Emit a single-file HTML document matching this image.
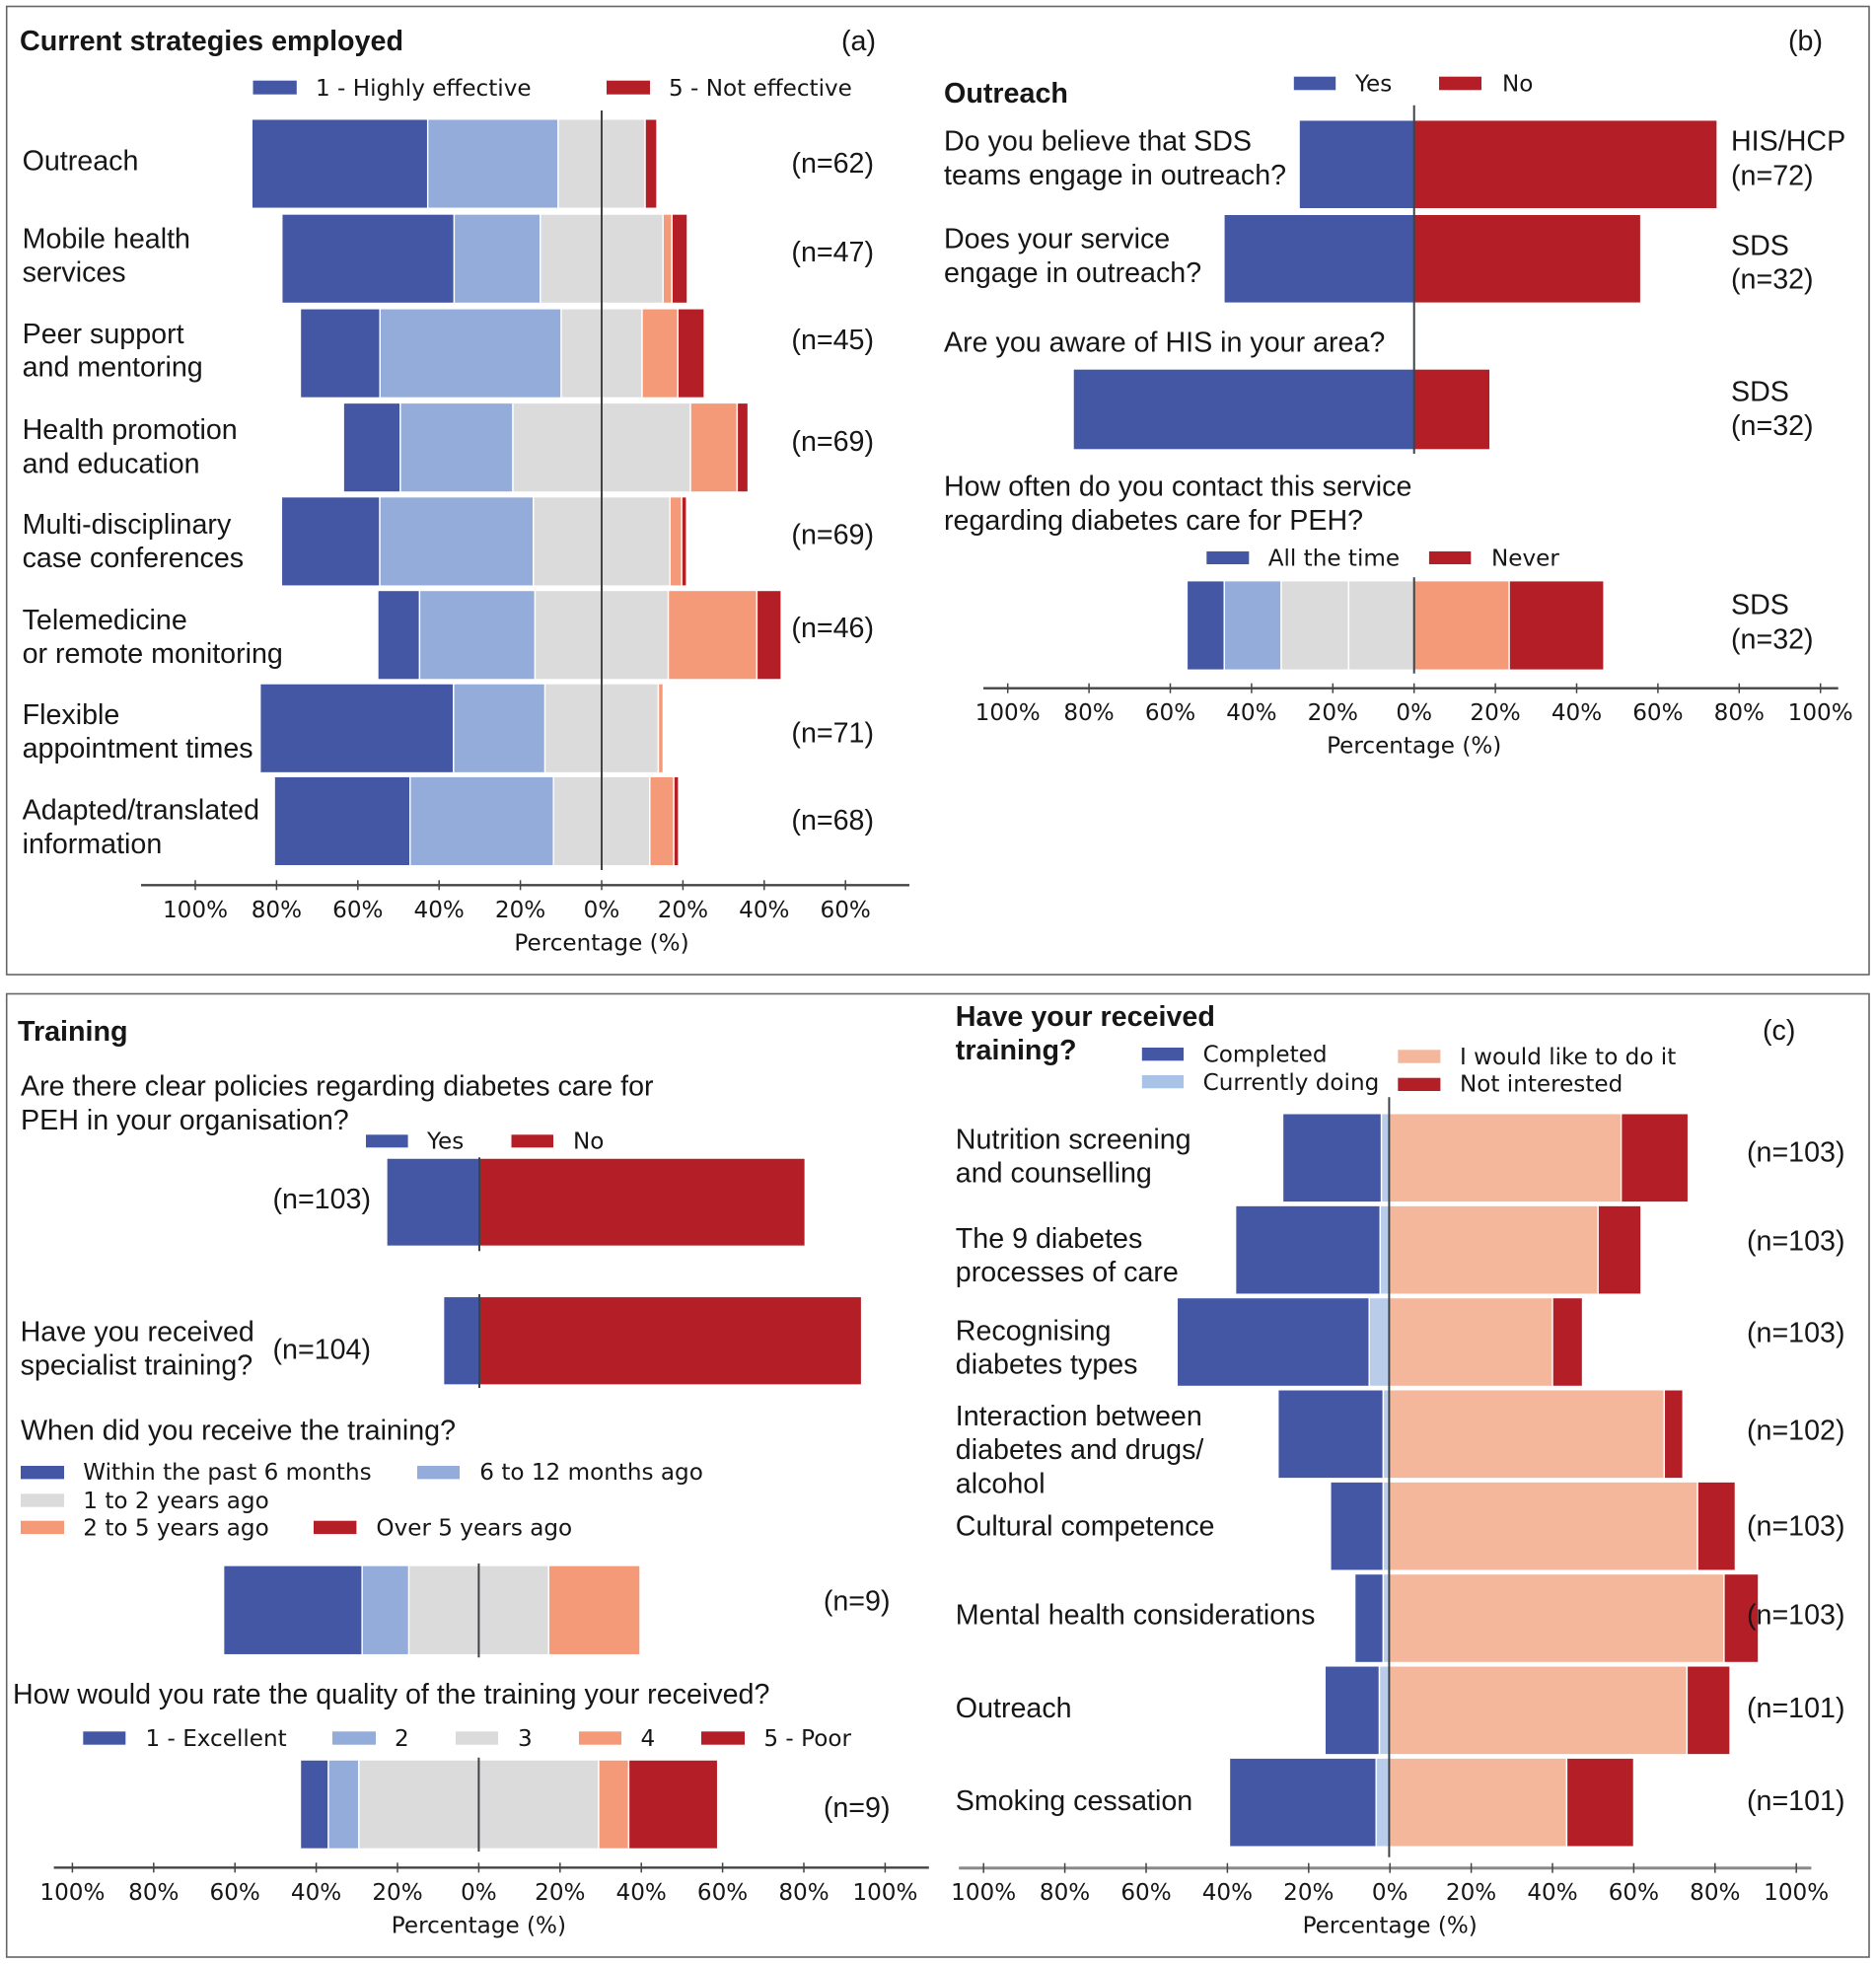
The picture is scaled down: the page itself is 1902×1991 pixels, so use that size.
<!DOCTYPE html>
<html lang="en">
<head>
<meta charset="utf-8">
<title>Diabetes care strategies, outreach and training survey results</title>
<style>
  html, body { margin: 0; padding: 0; background: #fff; }
  svg { display: block; }
  text { fill: #161616; }
  .t { font-family: "Liberation Sans", Arial, sans-serif; font-size: 28.65px; }
  .b { font-family: "Liberation Sans", Arial, sans-serif; font-size: 28.7px; font-weight: 700; }
  .d { font-family: "DejaVu Sans", sans-serif; font-size: 23.1px; }
  .e { text-anchor: end; }
  .m { text-anchor: middle; }
  .blue { fill: #4457a5; }
  .lb { fill: #94acd9; }
  .lb2 { fill: #a9c3e6; }
  .gray { fill: #dcdbdc; }
  .or { fill: #f49a78; }
  .sal { fill: #f5b79c; }
  .red { fill: #b41e27; }
</style>
</head>
<body>
<svg id="figure" xmlns="http://www.w3.org/2000/svg" width="1902" height="1991" viewBox="0 0 1902 1991">
  <rect x="0" y="0" width="1902" height="1991" fill="#fff"/>
  <rect x="6.7" y="6.5" width="1888.3" height="981.5" fill="none" stroke="#666" stroke-width="1.6"/>
  <rect x="6.7" y="1007.5" width="1888.3" height="976.5" fill="none" stroke="#666" stroke-width="1.6"/>

  <g id="chart-layer"></g>

  <!-- Panel a -->
  <g>
    <text class="b" x="20" y="51">Current strategies employed</text>
    <text class="t" x="853" y="51">(a)</text>
    <rect class="blue" x="256.5" y="81.7" width="44.3" height="14"/>
    <text class="d" x="320" y="97">1 - Highly effective</text>
    <rect class="red" x="615" y="81.7" width="44" height="14"/>
    <text class="d" x="678" y="97">5 - Not effective</text>

    <text class="t" x="22.6" y="172.3">Outreach</text>
    <text class="t"><tspan x="22.6" y="251.7">Mobile health</tspan><tspan x="22.6" y="285.7">services</tspan></text>
    <text class="t"><tspan x="22.6" y="348">Peer support</tspan><tspan x="22.6" y="381.7">and mentoring</tspan></text>
    <text class="t"><tspan x="22.6" y="445">Health promotion</tspan><tspan x="22.6" y="479.3">and education</tspan></text>
    <text class="t"><tspan x="22.6" y="541">Multi-disciplinary</tspan><tspan x="22.6" y="575">case conferences</tspan></text>
    <text class="t"><tspan x="22.6" y="638">Telemedicine</tspan><tspan x="22.6" y="672">or remote monitoring</tspan></text>
    <text class="t"><tspan x="22.6" y="734">Flexible</tspan><tspan x="22.6" y="768">appointment times</tspan></text>
    <text class="t"><tspan x="22.6" y="830.7">Adapted/translated</tspan><tspan x="22.6" y="865">information</tspan></text>

    <text class="t e" x="886" y="175">(n=62)</text>
    <text class="t e" x="886" y="265">(n=47)</text>
    <text class="t e" x="886" y="354">(n=45)</text>
    <text class="t e" x="886" y="457">(n=69)</text>
    <text class="t e" x="886" y="551.5">(n=69)</text>
    <text class="t e" x="886" y="646">(n=46)</text>
    <text class="t e" x="886" y="752.3">(n=71)</text>
    <text class="t e" x="886" y="841">(n=68)</text>
  </g>

  <!-- Panel b -->
  <g>
    <text class="b" x="957" y="104">Outreach</text>
    <text class="t" x="1813" y="51">(b)</text>
    <rect class="blue" x="1311.8" y="77.7" width="42.4" height="13.6"/>
    <text class="d" x="1374" y="92.7">Yes</text>
    <rect class="red" x="1459" y="77.7" width="43" height="13.6"/>
    <text class="d" x="1523" y="92.7">No</text>

    <text class="t"><tspan x="957" y="152.7">Do you believe that SDS</tspan><tspan x="957" y="187">teams engage in outreach?</tspan></text>
    <text class="t"><tspan x="957" y="251.7">Does your service</tspan><tspan x="957" y="286">engage in outreach?</tspan></text>
    <text class="t" x="957" y="356.7">Are you aware of HIS in your area?</text>
    <text class="t"><tspan x="957" y="502.4">How often do you contact this service</tspan><tspan x="957" y="537">regarding diabetes care for PEH?</tspan></text>

    <text class="t"><tspan x="1755" y="152.7">HIS/HCP</tspan><tspan x="1755" y="187.3">(n=72)</tspan></text>
    <text class="t"><tspan x="1755" y="258.3">SDS</tspan><tspan x="1755" y="292.7">(n=32)</tspan></text>
    <text class="t"><tspan x="1755" y="406.7">SDS</tspan><tspan x="1755" y="441">(n=32)</tspan></text>
    <text class="t"><tspan x="1755" y="622.7">SDS</tspan><tspan x="1755" y="657.3">(n=32)</tspan></text>

    <rect class="blue" x="1223.3" y="559" width="43" height="13"/>
    <text class="d" x="1285.7" y="573.3">All the time</text>
    <rect class="red" x="1448.9" y="559" width="42.4" height="13"/>
    <text class="d" x="1512" y="573.3">Never</text>
  </g>

  <!-- Training panel -->
  <g>
    <text class="b" x="18" y="1055">Training</text>
    <text class="t"><tspan x="21" y="1110.7">Are there clear policies regarding diabetes care for</tspan><tspan x="21" y="1145">PEH in your organisation?</tspan></text>
    <rect class="blue" x="371" y="1150.3" width="42.6" height="13"/>
    <text class="d" x="433" y="1164.5">Yes</text>
    <rect class="red" x="518.5" y="1150.3" width="42.5" height="13"/>
    <text class="d" x="581" y="1164.5">No</text>
    <text class="t e" x="376" y="1225">(n=103)</text>
    <text class="t"><tspan x="20.6" y="1359.3">Have you received</tspan><tspan x="20.6" y="1393.3">specialist training?</tspan></text>
    <text class="t e" x="376" y="1377.7">(n=104)</text>
    <text class="t" x="21" y="1459.3">When did you receive the training?</text>

    <rect class="blue" x="21" y="1486" width="44" height="13.4"/>
    <text class="d" x="84.3" y="1500">Within the past 6 months</text>
    <rect class="lb" x="423" y="1486" width="43" height="13.4"/>
    <text class="d" x="486.3" y="1500">6 to 12 months ago</text>
    <rect class="gray" x="21" y="1514.3" width="44" height="13.4"/>
    <text class="d" x="84.3" y="1529">1 to 2 years ago</text>
    <rect class="or" x="21" y="1541.7" width="44" height="13.4"/>
    <text class="d" x="84.3" y="1556.7">2 to 5 years ago</text>
    <rect class="red" x="318" y="1541.7" width="43.4" height="13.4"/>
    <text class="d" x="381.4" y="1556.7">Over 5 years ago</text>
    <text class="t e" x="902.5" y="1632.7">(n=9)</text>

    <text class="t" x="13" y="1727">How would you rate the quality of the training your received?</text>
    <rect class="blue" x="84.3" y="1755.3" width="43" height="13.4"/>
    <text class="d" x="147.5" y="1770">1 - Excellent</text>
    <rect class="lb" x="337" y="1755.3" width="44" height="13.4"/>
    <text class="d" x="400" y="1770">2</text>
    <rect class="gray" x="462" y="1755.3" width="43" height="13.4"/>
    <text class="d" x="525" y="1770">3</text>
    <rect class="or" x="587" y="1755.3" width="43" height="13.4"/>
    <text class="d" x="649.5" y="1770">4</text>
    <rect class="red" x="711" y="1755.3" width="44" height="13.4"/>
    <text class="d" x="774.4" y="1770">5 - Poor</text>
    <text class="t e" x="902.5" y="1842">(n=9)</text>
  </g>

  <!-- Panel c -->
  <g>
    <text class="b"><tspan x="968.8" y="1040">Have your received</tspan><tspan x="968.8" y="1074">training?</tspan></text>
    <text class="t" x="1787" y="1054">(c)</text>
    <rect class="blue" x="1157.8" y="1062" width="42.2" height="13.3"/>
    <text class="d" x="1219.6" y="1076.5">Completed</text>
    <rect class="lb2" x="1157.8" y="1090" width="42.2" height="13.3"/>
    <text class="d" x="1219.6" y="1105">Currently doing</text>
    <rect class="sal" x="1417.3" y="1064.3" width="43.1" height="13.4"/>
    <text class="d" x="1480" y="1079">I would like to do it</text>
    <rect class="red" x="1417.3" y="1092.7" width="43.1" height="13.3"/>
    <text class="d" x="1480" y="1106.5">Not interested</text>

    <text class="t"><tspan x="968.8" y="1164.3">Nutrition screening</tspan><tspan x="968.8" y="1198.7">and counselling</tspan></text>
    <text class="t"><tspan x="968.8" y="1265">The 9 diabetes</tspan><tspan x="968.8" y="1299">processes of care</tspan></text>
    <text class="t"><tspan x="968.8" y="1358.3">Recognising</tspan><tspan x="968.8" y="1392.3">diabetes types</tspan></text>
    <text class="t"><tspan x="968.8" y="1445">Interaction between</tspan><tspan x="968.8" y="1479">diabetes and drugs/</tspan><tspan x="968.8" y="1513.3">alcohol</tspan></text>
    <text class="t" x="968.8" y="1556.7">Cultural competence</text>
    <text class="t" x="968.8" y="1646.3">Mental health considerations</text>
    <text class="t" x="968.8" y="1741">Outreach</text>
    <text class="t" x="968.8" y="1835">Smoking cessation</text>
  </g>

  <g id="overlay-layer">
    <text class="t e" x="1870.5" y="1177.3">(n=103)</text>
    <text class="t e" x="1870.5" y="1267.3">(n=103)</text>
    <text class="t e" x="1870.5" y="1360.7">(n=103)</text>
    <text class="t e" x="1870.5" y="1459.3">(n=102)</text>
    <text class="t e" x="1870.5" y="1556.7">(n=103)</text>
    <text class="t e" x="1870.5" y="1646.3">(n=103)</text>
    <text class="t e" x="1870.5" y="1741">(n=101)</text>
    <text class="t e" x="1870.5" y="1835">(n=101)</text>
  </g>
</svg>

<script>
// ---------- Data (percent of respondents) ----------
const strategyCategories = ["Outreach", "Mobile health services", "Peer support and mentoring", "Health promotion and education", "Multi-disciplinary case conferences", "Telemedicine or remote monitoring", "Flexible appointment times", "Adapted/translated information"];
const strategyHighly = [43.3, 42.4, 19.6, 14.0, 24.2, 10.3, 47.6, 33.4];
const strategyRating2 = [32.1, 21.2, 44.6, 27.7, 37.8, 28.4, 22.5, 35.3];
const strategyRating3 = [21.4, 30.2, 19.9, 43.7, 33.6, 32.8, 27.9, 23.7];
const strategyRating4 = [0, 2.2, 8.8, 11.5, 2.9, 21.8, 1.2, 5.9];
const strategyNot = [2.9, 3.8, 6.5, 2.7, 1.2, 6.0, 0, 1.2];

const outreachCategories = ["SDS teams engage in outreach", "Service engages in outreach", "Aware of HIS in area"];
const outreachYes = [28.3, 46.8, 83.9];
const outreachNo = [74.6, 55.8, 18.7];

const contactCategories = ["Contact this service"];
const contactAllTime = [9.2];
const contactOften = [14.0];
const contactSometimes = [16.6];
const contactRarely = [16.1];
const contactSeldom = [23.4];
const contactNever = [23.3];

const policyCategories = ["Clear policies"];
const policyYes = [22.8];
const policyNo = [80.2];

const specialistCategories = ["Specialist training"];
const specialistYes = [8.8];
const specialistNo = [94.1];

const whenCategories = ["When received training"];
const whenSixMonths = [34.1];
const whenTwelveMonths = [11.5];
const whenTwoYears = [34.4];
const whenFiveYears = [22.5];
const whenOverFive = [0];

const qualityCategories = ["Training quality"];
const qualityExcellent = [6.9];
const qualityRating2 = [7.5];
const qualityRating3 = [59.0];
const qualityRating4 = [7.4];
const qualityPoor = [21.9];

const receivedCategories = ["Nutrition screening and counselling", "The 9 diabetes processes of care", "Recognising diabetes types", "Interaction between diabetes and drugs/alcohol", "Cultural competence", "Mental health considerations", "Outreach", "Smoking cessation"];
const receivedCompleted = [24.3, 35.6, 47.3, 25.9, 13.0, 7.0, 13.4, 36.1];
const receivedCurrent = [1.9, 2.2, 4.9, 1.45, 1.45, 1.45, 2.4, 3.2];
const receivedWouldLike = [57.1, 51.4, 40.2, 67.7, 75.9, 82.4, 73.3, 43.7];
const receivedNotInterested = [16.5, 10.6, 7.4, 4.6, 9.3, 8.5, 10.6, 16.5];

const tickValuesStrategies = [-100, -80, -60, -40, -20, 0, 20, 40, 60];
const tickValuesFull = [-100, -80, -60, -40, -20, 0, 20, 40, 60, 80, 100];

// ---------- Drawing helpers ----------
const SVG_NS = "http://www.w3.org/2000/svg";
const chartLayer = document.getElementById("chart-layer");
const PX_PER_PERCENT = 4.12;
const COLORS = { blue: "#4457a5", light: "#94acd9", pale: "#b9cdea", gray: "#dcdbdc", orange: "#f49a78", salmon: "#f5b79c", red: "#b41e27" };

function makeXScale(zero) {
  return function (percent) { return zero + percent * PX_PER_PERCENT; };
}

function slug(text) {
  return text.toLowerCase().replace(/[^a-z0-9]+/g, "-").replace(/^-|-$/g, "");
}

// Draw one stacked diverging chart. The zero position is either the middle of a
// neutral series (neutralIndex) or the boundary after leftCount series.
function drawStacks(spec) {
  const x = makeXScale(spec.zero);
  spec.categories.forEach(function (category, row) {
    let offset = 0;
    if (spec.neutralIndex !== undefined) {
      for (let s = 0; s < spec.neutralIndex; s++) offset += spec.series[s].values[row];
      offset += spec.series[spec.neutralIndex].values[row] / 2;
    } else {
      for (let s = 0; s < spec.leftCount; s++) offset += spec.series[s].values[row];
    }
    let cursor = -offset;
    const center = spec.rowCenter(row);
    const height = spec.rowHeight(row);
    spec.series.forEach(function (serie) {
      const value = serie.values[row];
      if (value > 0) {
        const bar = document.createElementNS(SVG_NS, "rect");
        
        
        bar.setAttribute("x", x(cursor));
        bar.setAttribute("width", Math.abs(x(cursor + value) - x(cursor)));
        bar.setAttribute("y", center - height / 2);
        bar.setAttribute("height", height);
        bar.setAttribute("fill", serie.color);
        bar.setAttribute("stroke", "#fff");
        bar.setAttribute("stroke-width", "1.4");
        chartLayer.appendChild(bar);
      }
      cursor += value;
    });
  });
}

function drawZeroLine(zero, y1, y2, name) {
  const line = document.createElementNS(SVG_NS, "line");
  
  
  line.setAttribute("x1", zero);
  line.setAttribute("x2", zero);
  line.setAttribute("y1", y1);
  line.setAttribute("y2", y2);
  line.setAttribute("stroke", "#3f4346");
  line.setAttribute("stroke-width", "2");
  chartLayer.appendChild(line);
}

function drawAxis(spec) {
  const x = makeXScale(spec.zero);
  const axisLine = document.createElementNS(SVG_NS, "line");
  
  
  axisLine.setAttribute("x1", spec.x1);
  axisLine.setAttribute("x2", spec.x2);
  axisLine.setAttribute("y1", spec.y);
  axisLine.setAttribute("y2", spec.y);
  axisLine.setAttribute("stroke", spec.color);
  axisLine.setAttribute("stroke-width", spec.width);
  chartLayer.appendChild(axisLine);

  spec.ticks.forEach(function (value) {
    const tick = document.createElementNS(SVG_NS, "line");
    
    
    tick.setAttribute("x1", x(value));
    tick.setAttribute("x2", x(value));
    tick.setAttribute("y1", spec.y - 5);
    tick.setAttribute("y2", spec.y + 5);
    tick.setAttribute("stroke", "#444");
    tick.setAttribute("stroke-width", "1.5");
    chartLayer.appendChild(tick);

    const label = document.createElementNS(SVG_NS, "text");
    
    
    label.setAttribute("class", "d m");
    label.setAttribute("x", x(value));
    label.setAttribute("y", spec.y + 32.5);
    label.textContent = Math.abs(value) + "%";
    chartLayer.appendChild(label);
  });

  const title = document.createElementNS(SVG_NS, "text");
  
  
  title.setAttribute("class", "d m");
  title.setAttribute("x", spec.zero);
  title.setAttribute("y", spec.y + 66);
  title.textContent = "Percentage (%)";
  chartLayer.appendChild(title);
}

// ---------- Panel (a) ----------
drawStacks({
  categories: strategyCategories,
  zero: 610,
  rowHeight: function () { return 90.5; },
  neutralIndex: 2,
  rowCenter: function (i) { return 166 + 96.4 * i - 0.17 * i * i; },
  series: [
    { name: "highly-effective", values: strategyHighly, color: COLORS.blue },
    { name: "rating-2", values: strategyRating2, color: COLORS.light },
    { name: "rating-3", values: strategyRating3, color: COLORS.gray },
    { name: "rating-4", values: strategyRating4, color: COLORS.orange },
    { name: "not-effective", values: strategyNot, color: COLORS.red }
  ]
});
drawZeroLine(610, 112, 882, "strategies-zero-line");
drawAxis({ name: "strategies", zero: 610, y: 897.3, x1: 143, x2: 922, ticks: tickValuesStrategies, color: "#444", width: 2.4 });

// ---------- Panel (b) ----------
drawStacks({
  categories: outreachCategories,
  zero: 1433.7,
  rowHeight: function (i) { return i === 2 ? 82 : 90; },
  leftCount: 1,
  rowCenter: function (i) { return i === 2 ? 415 : 166.7 + 95.6 * i; },
  series: [
    { name: "yes", values: outreachYes, color: COLORS.blue },
    { name: "no", values: outreachNo, color: COLORS.red }
  ]
});
drawStacks({
  categories: contactCategories,
  zero: 1433.7,
  rowHeight: function () { return 90.6; },
  leftCount: 4,
  rowCenter: function () { return 634; },
  series: [
    { name: "all-the-time", values: contactAllTime, color: COLORS.blue },
    { name: "often", values: contactOften, color: COLORS.light },
    { name: "sometimes", values: contactSometimes, color: COLORS.gray },
    { name: "rarely", values: contactRarely, color: COLORS.gray },
    { name: "seldom", values: contactSeldom, color: COLORS.orange },
    { name: "never", values: contactNever, color: COLORS.red }
  ]
});
drawZeroLine(1433.7, 106.7, 460, "outreach-zero-line");
drawZeroLine(1433.7, 585.3, 682.7, "contact-zero-line");
drawAxis({ name: "outreach", zero: 1433.7, y: 697.7, x1: 997, x2: 1863.7, ticks: tickValuesFull, color: "#444", width: 2.4 });

// ---------- Training panel ----------
drawStacks({
  categories: policyCategories,
  zero: 485.9,
  rowHeight: function () { return 89.3; },
  leftCount: 1,
  rowCenter: function () { return 1218.7; },
  series: [
    { name: "yes", values: policyYes, color: COLORS.blue },
    { name: "no", values: policyNo, color: COLORS.red }
  ]
});
drawStacks({
  categories: specialistCategories,
  zero: 485.9,
  rowHeight: function () { return 89.7; },
  leftCount: 1,
  rowCenter: function () { return 1359.2; },
  series: [
    { name: "yes", values: specialistYes, color: COLORS.blue },
    { name: "no", values: specialistNo, color: COLORS.red }
  ]
});
drawStacks({
  categories: whenCategories,
  zero: 485.4,
  rowHeight: function () { return 90.7; },
  neutralIndex: 2,
  rowCenter: function () { return 1632.3; },
  series: [
    { name: "within-6-months", values: whenSixMonths, color: COLORS.blue },
    { name: "6-to-12-months", values: whenTwelveMonths, color: COLORS.light },
    { name: "1-to-2-years", values: whenTwoYears, color: COLORS.gray },
    { name: "2-to-5-years", values: whenFiveYears, color: COLORS.orange },
    { name: "over-5-years", values: whenOverFive, color: COLORS.red }
  ]
});
drawStacks({
  categories: qualityCategories,
  zero: 485.4,
  rowHeight: function () { return 90.3; },
  neutralIndex: 2,
  rowCenter: function () { return 1829.2; },
  series: [
    { name: "excellent", values: qualityExcellent, color: COLORS.blue },
    { name: "rating-2", values: qualityRating2, color: COLORS.light },
    { name: "rating-3", values: qualityRating3, color: COLORS.gray },
    { name: "rating-4", values: qualityRating4, color: COLORS.orange },
    { name: "poor", values: qualityPoor, color: COLORS.red }
  ]
});
drawZeroLine(486, 1173.3, 1268.3, "policy-zero-line");
drawZeroLine(486, 1312, 1407, "specialist-zero-line");
drawZeroLine(485.4, 1585, 1680.3, "when-zero-line");
drawZeroLine(485.4, 1781.7, 1877, "quality-zero-line");
drawAxis({ name: "training", zero: 485.4, y: 1893.3, x1: 54.6, x2: 941.8, ticks: tickValuesFull, color: "#444", width: 2.4 });

// ---------- Panel (c) ----------
drawStacks({
  categories: receivedCategories,
  zero: 1408.4,
  rowHeight: function () { return 90; },
  leftCount: 2,
  rowCenter: function (i) { return 1173.8 + 93.34 * i; },
  series: [
    { name: "completed", values: receivedCompleted, color: COLORS.blue },
    { name: "currently-doing", values: receivedCurrent, color: COLORS.pale },
    { name: "would-like", values: receivedWouldLike, color: COLORS.salmon },
    { name: "not-interested", values: receivedNotInterested, color: COLORS.red }
  ]
});
drawZeroLine(1408.4, 1112.3, 1882.7, "received-zero-line");
drawAxis({ name: "received", zero: 1409.2, y: 1893.7, x1: 972.2, x2: 1836.4, ticks: tickValuesFull, color: "#8a8a8a", width: 3 });
</script>
</body>
</html>
